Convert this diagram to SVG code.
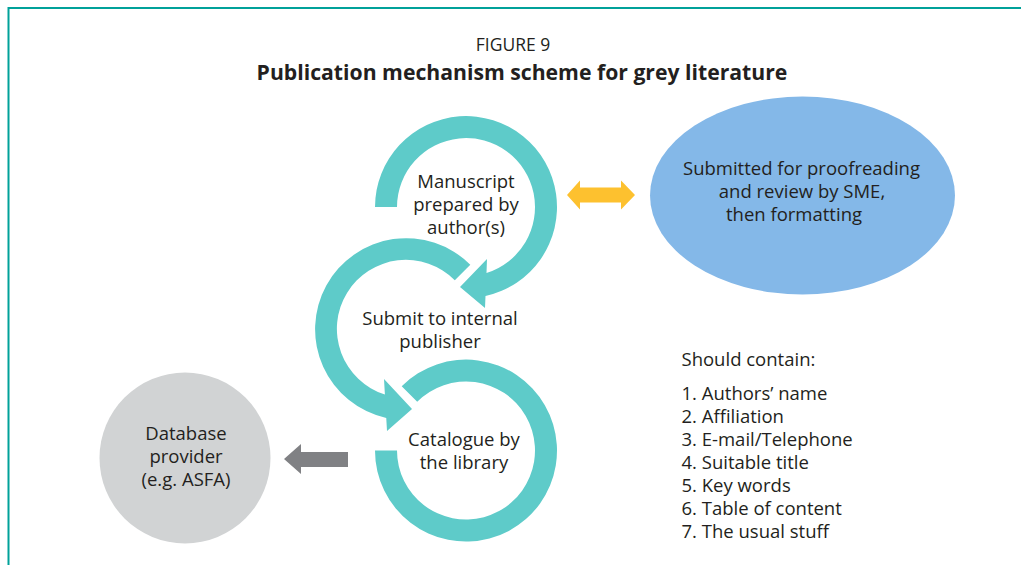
<svg xmlns="http://www.w3.org/2000/svg" width="1021" height="565" viewBox="0 0 1021 565">
  <style>
    text { font-family: "Open Sans", "Noto Sans", "Liberation Sans", sans-serif; fill: #231f20; }
    .lbl { font-size: 18.5px; text-anchor: middle; }
    .lst { font-size: 18.5px; }
    .ring { fill: #5ecbc9; }
  </style>
  <rect x="0" y="0" width="1021" height="565" fill="#ffffff"/>
  <g id="frame">
    <path d="M8.5 565 V8 H1021" fill="none" stroke="#00a19a" stroke-width="2"/>
  </g>
  <g id="title">
    <text x="513" y="51" style="font-size:17.5px;text-anchor:middle">FIGURE 9</text>
    <text x="522" y="80" style="font-size:21.2px;font-weight:bold;text-anchor:middle">Publication mechanism scheme for grey literature</text>
  </g>
  <g id="connectors">
    <path id="double-arrow" d="M567 195 L580 180.5 V187.5 H621 V180.5 L635 195 L621 209.5 V202.5 H580 V209.5 Z" fill="#fdc12f"/>
    <path id="grey-arrow" d="M284 459 L301 444 V452 H348 V467 H301 V474 Z" fill="#808184"/>
  </g>
  <g id="node-manuscript">
    <path class="ring" d="M375 207 A91 91 0 1 1 485.5 296 L485 308 L460 287 L487 259 L486.5 273 A69 69 0 1 0 397 207 Z"/>
    <text class="lbl" x="466" y="188">Manuscript</text>
    <text class="lbl" x="466" y="211">prepared by</text>
    <text class="lbl" x="466" y="234">author(s)</text>
  </g>
  <g id="node-submit">
    <path class="ring" d="M470.3 264.7 A91 91 0 1 0 386.25 418 L387 431 L412 409 L384 379 L384.9 394.6 A69 69 0 1 1 454.8 280.2 Z"/>
    <text class="lbl" x="440" y="325">Submit to internal</text>
    <text class="lbl" x="440" y="348">publisher</text>
  </g>
  <g id="node-catalogue">
    <path class="ring" d="M401.7 386.2 A91 91 0 1 1 375 450.5 L397 450.5 A69 69 0 1 0 417.2 401.7 Z"/>
    <text class="lbl" x="464" y="446">Catalogue by</text>
    <text class="lbl" x="464" y="469">the library</text>
  </g>
  <g id="node-review">
    <ellipse cx="802.5" cy="195.5" rx="152.5" ry="99" fill="#84b8e8"/>
    <text class="lbl" x="801.5" y="175">Submitted for proofreading</text>
    <text class="lbl" x="802" y="198">and review by SME,</text>
    <text class="lbl" x="794" y="221">then formatting</text>
  </g>
  <g id="node-database">
    <circle cx="185" cy="458" r="85.5" fill="#d1d3d4"/>
    <text class="lbl" x="186" y="440">Database</text>
    <text class="lbl" x="186" y="463">provider</text>
    <text class="lbl" x="186" y="486">(e.g. ASFA)</text>
  </g>
  <g id="node-list">
    <text class="lst" x="681.5" y="366">Should contain:</text>
    <text class="lst" x="681.5" y="400">1. Authors’ name</text>
    <text class="lst" x="681.5" y="423">2. Affiliation</text>
    <text class="lst" x="681.5" y="446">3. E-mail/Telephone</text>
    <text class="lst" x="681.5" y="469">4. Suitable title</text>
    <text class="lst" x="681.5" y="492">5. Key words</text>
    <text class="lst" x="681.5" y="515">6. Table of content</text>
    <text class="lst" x="681.5" y="538">7. The usual stuff</text>
  </g>
</svg>
